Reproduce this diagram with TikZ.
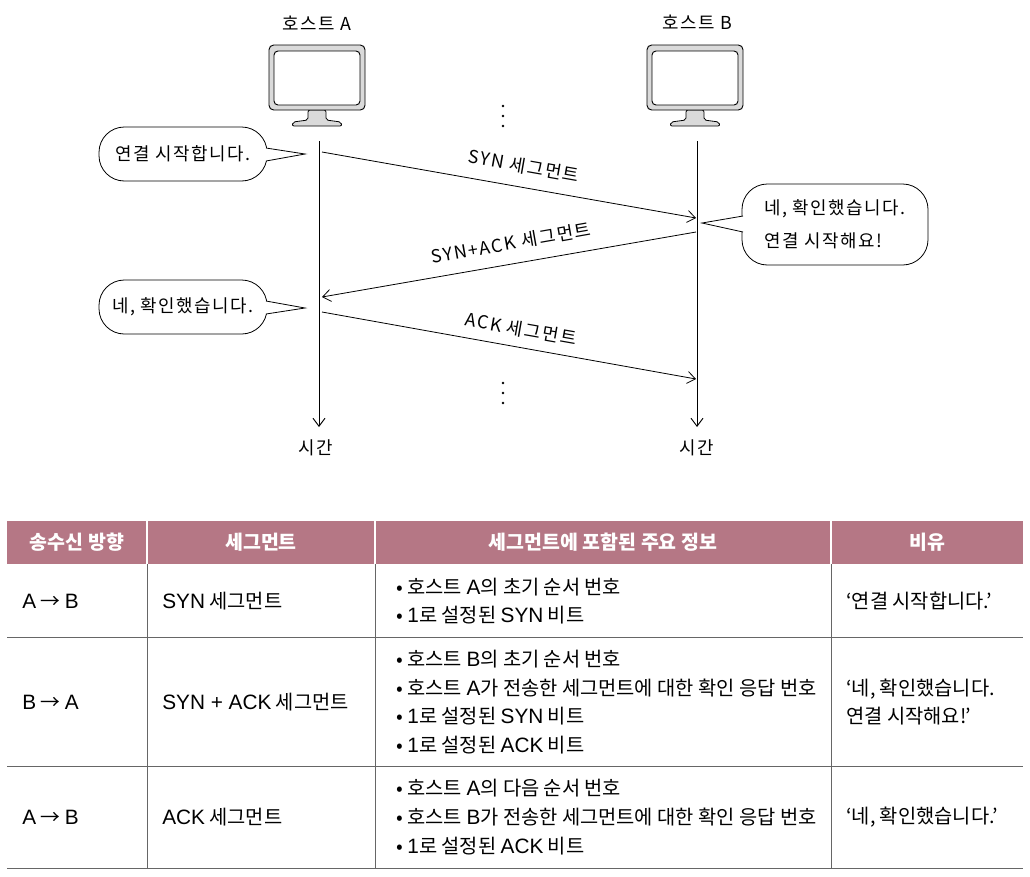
\documentclass[tikz,border=0pt]{standalone}
\usepackage{fontspec}
\setmainfont{Noto Sans CJK KR}
\newfontfamily\handfont[LetterSpace=9]{Noto Sans CJK KR}
\newfontfamily\latfont[Scale=1.05]{Liberation Sans}
\newcommand{\lat}[1]{{\latfont #1}}
\usetikzlibrary{arrows.meta,positioning}
\definecolor{headrose}{HTML}{B57785}
\definecolor{rulegray}{HTML}{666666}
\definecolor{screengray}{HTML}{DADADA}
\tikzset{
    hand/.style={font=\handfont\fontsize{13.4}{24.5}\selectfont, inner sep=0pt},
    bubble/.style={draw=black, fill=white, line width=0.6pt, rounded corners=19pt, hand, align=left, anchor=center},
    tail/.style={draw=black, fill=white, line width=0.6pt},
    lifeline/.style={line width=0.7pt, -{Straight Barb[length=6pt,width=9pt]}},
    message/.style={line width=0.6pt, -{Straight Barb[length=6pt,width=9pt]}},
    headcell/.style={font=\fontsize{14.6}{20}\selectfont\bfseries, text=white, inner sep=0pt},
    cell/.style={font=\fontsize{14.85}{21.6}\selectfont, anchor=west, align=left, inner sep=0pt},
    gridline/.style={draw=rulegray, line width=0.6pt},
    monitor/.pic={
        \draw[fill=screengray, line width=0.6pt, rounded corners=1.5pt] (-9,65) -- (9,65) -- (9,75) -- (24,77) -- (25,81) -- (-25,81) -- (-24,77) -- (-9,75) -- cycle;
        \draw[fill=screengray, line width=0.7pt, rounded corners=3.5pt] (-48,0) rectangle (48,65);
        \draw[fill=white, line width=0.7pt, rounded corners=3pt] (-43,6) rectangle (43,60);
    }
}
\begin{document}
\begin{tikzpicture}[x=0.75pt, y=-0.75pt]
    \useasboundingbox (0,0) rectangle (1030,876);
    % hosts
    \pic at (317,45) {monitor};
    \pic at (695,45) {monitor};
    \node[hand] (hostA) at (317,23) {호스트 A};
    \node[hand] (hostB) at (697,22) {호스트 B};
    % time axes
    \coordinate (topA) at (319,141);
    \coordinate (topB) at (697,141);
    \node[hand] (timeA) at (316,448) {시간};
    \node[hand] (timeB) at (697,448) {시간};
    \draw[lifeline] (topA) -- (319,427);
    \draw[lifeline] (topB) -- (697,427);
    % segments
    \coordinate (synS) at (322,152);
    \coordinate (synE) at (696,218);
    \coordinate (saS) at (696,232);
    \coordinate (saE) at (322,297);
    \coordinate (ackS) at (322,312);
    \coordinate (ackE) at (696,379);
    \draw[message] (synS) -- (synE);
    \draw[message] (saS) -- (saE);
    \draw[message] (ackS) -- (ackE);
    \node[hand, rotate=-10] (synL) at (524,166) {SYN 세그먼트};
    \node[hand, rotate=10] (saL) at (511,243) {SYN+ACK 세그먼트};
    \node[hand, rotate=-10] (ackL) at (521,329) {ACK 세그먼트};
    \foreach \y in {106,116,126} {
            \fill (503,\y) circle (1pt);
        }
    \foreach \y in {383,393,403} {
            \fill (503,\y) circle (1pt);
        }
    % bubbles
    \node[bubble, minimum width=126pt, minimum height=40.5pt] (askA) at (183,154) {연결 시작합니다.};
    \node[bubble, minimum width=126pt, minimum height=40.5pt] (okA) at (183,307) {네, 확인했습니다.};
    \node[bubble, minimum width=139.5pt, minimum height=60.75pt] (okB) at (835,224.5) {네, 확인했습니다.\\연결 시작해요!};
    \draw[tail] (266,148) -- (305,154) -- (266,161);
    \draw[tail] (266,301) -- (305,308) -- (266,314);
    \draw[tail] (743,216) -- (702,223) -- (743,232);
    % table
    \fill[headrose] (7,521) rectangle (1023,564);
    \foreach \x in {147,375,831} {
            \draw[white, line width=0.8pt] (\x,521) -- (\x,564);
            \draw[gridline] (\x,564) -- (\x,868);
        }
    \foreach \y in {637,766,868} {
            \draw[gridline] (7,\y) -- (1023,\y);
        }
    \node[headcell] (headDir) at (77,542) {송수신 방향};
    \node[headcell] (headSeg) at (261,542) {세그먼트};
    \node[headcell] (headInfo) at (603,542) {세그먼트에 포함된 주요 정보};
    \node[headcell] (headFig) at (927,542) {비유};
    \node[cell] (dirA) at (22,601) {\lat{A} → \lat{B}};
    \node[cell] (segA) at (162,601) {\lat{SYN} 세그먼트};
    \node[cell] (infoA) at (396,601) {• 호스트 \lat{A}의 초기 순서 번호\\• \lat{1}로 설정된 \lat{SYN} 비트};
    \node[cell] (figA) at (846,601) {‘연결 시작합니다.’};
    \node[cell] (dirB) at (22,702) {\lat{B} → \lat{A}};
    \node[cell] (segB) at (162,702) {\lat{SYN + ACK} 세그먼트};
    \node[cell] (infoB) at (396,702) {• 호스트 \lat{B}의 초기 순서 번호\\• 호스트 \lat{A}가 전송한 세그먼트에 대한 확인 응답 번호\\• \lat{1}로 설정된 \lat{SYN} 비트\\• \lat{1}로 설정된 \lat{ACK} 비트};
    \node[cell] (figB) at (846,702) {‘네, 확인했습니다.\\연결 시작해요!’};
    \node[cell] (dirC) at (22,817) {\lat{A} → \lat{B}};
    \node[cell] (segC) at (162,817) {\lat{ACK} 세그먼트};
    \node[cell] (infoC) at (396,817) {• 호스트 \lat{A}의 다음 순서 번호\\• 호스트 \lat{B}가 전송한 세그먼트에 대한 확인 응답 번호\\• \lat{1}로 설정된 \lat{ACK} 비트};
    \node[cell] (figC) at (846,817) {‘네, 확인했습니다.’};
\end{tikzpicture}
\end{document}
